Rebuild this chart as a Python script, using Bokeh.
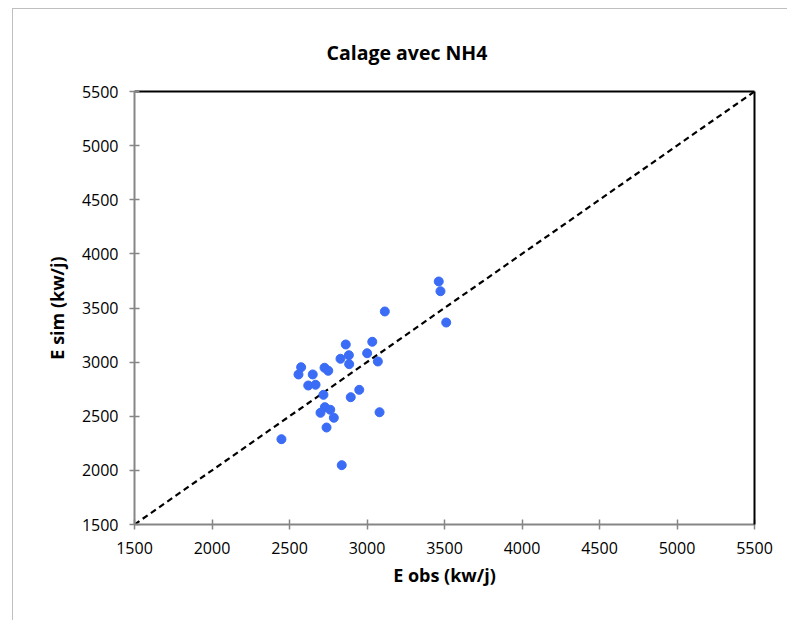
from bokeh.plotting import figure
from bokeh.models import Range1d, FixedTicker, LinearAxis, Title
from bokeh.embed import file_html
from bokeh.resources import INLINE

# Data
e_obs = [3463, 3474, 3115, 3511, 2863, 3034, 3001, 2883, 2829, 2885,
         3070, 2575, 2558, 2726, 2750, 2650, 2621, 2668, 2719, 2950,
         2895, 2728, 2700, 2763, 2786, 3081, 2739, 2448, 2837]
e_sim = [3745, 3655, 3468, 3366, 3163, 3188, 3082, 3064, 3031, 2981,
         3006, 2953, 2886, 2948, 2920, 2886, 2784, 2791, 2698, 2744,
         2676, 2584, 2532, 2560, 2486, 2537, 2396, 2288, 2048]
line_1to1 = [1500, 5500]
ticks = [1500, 2000, 2500, 3000, 3500, 4000, 4500, 5000, 5500]

FONT = "Open Sans"

p = figure(width=775, height=612, output_backend="svg", toolbar_location=None,
           x_range=Range1d(1500, 5500), y_range=Range1d(1500, 5500),
           min_border_left=121, min_border_right=34,
           min_border_top=82, min_border_bottom=97)
p.styles = {"margin-left": "12px", "margin-top": "8px",
            "border-left": "1px solid #bfbfbf", "border-top": "1px solid #bfbfbf"}
p.title = None
p.outline_line_color = None
p.grid.visible = False
p.background_fill_color = "white"
p.border_fill_color = "white"

xax = p.below[0]
yax = p.left[0]

# black frame lines on top and right (axes without ticks)
for side in ("above", "right"):
    a = LinearAxis(axis_line_color="black", axis_line_width=2,
                   ticker=FixedTicker(ticks=[]),
                   major_tick_line_color=None, minor_tick_line_color=None)
    p.add_layout(a, side)

p.add_layout(Title(text="Calage avec NH4", align="left", offset=192,
                   text_font=FONT, text_font_size="19.5px", text_font_style="bold",
                   text_color="black", standoff=51), "above")

for ax in (xax, yax):
    ax.ticker = FixedTicker(ticks=ticks)
    ax.axis_line_color = "#868686"
    ax.axis_line_width = 2
    ax.major_tick_line_color = "#868686"
    ax.major_tick_line_width = 1.5
    ax.major_tick_in = 5
    ax.major_tick_out = 5
    ax.minor_tick_line_color = None
    ax.major_label_text_font = FONT
    ax.major_label_text_font_size = "16px"
    ax.major_label_text_color = "black"
    ax.axis_label_text_font = FONT
    ax.axis_label_text_font_size = "18px"
    ax.axis_label_text_font_style = "bold"
    ax.axis_label_text_color = "black"

xax.axis_label = "E obs (kw/j)"
yax.axis_label = "E sim (kw/j)"
xax.major_label_standoff = 12
yax.major_label_standoff = 11
xax.axis_label_standoff = 6
yax.axis_label_standoff = 10

p.line(line_1to1, line_1to1, line_color="black", line_width=2.2, line_dash="6 4")
p.scatter(e_obs, e_sim, size=9, fill_color="#3a6cf6", line_color="#3a6cf6")

open("out.html", "w").write(file_html(p, INLINE))
